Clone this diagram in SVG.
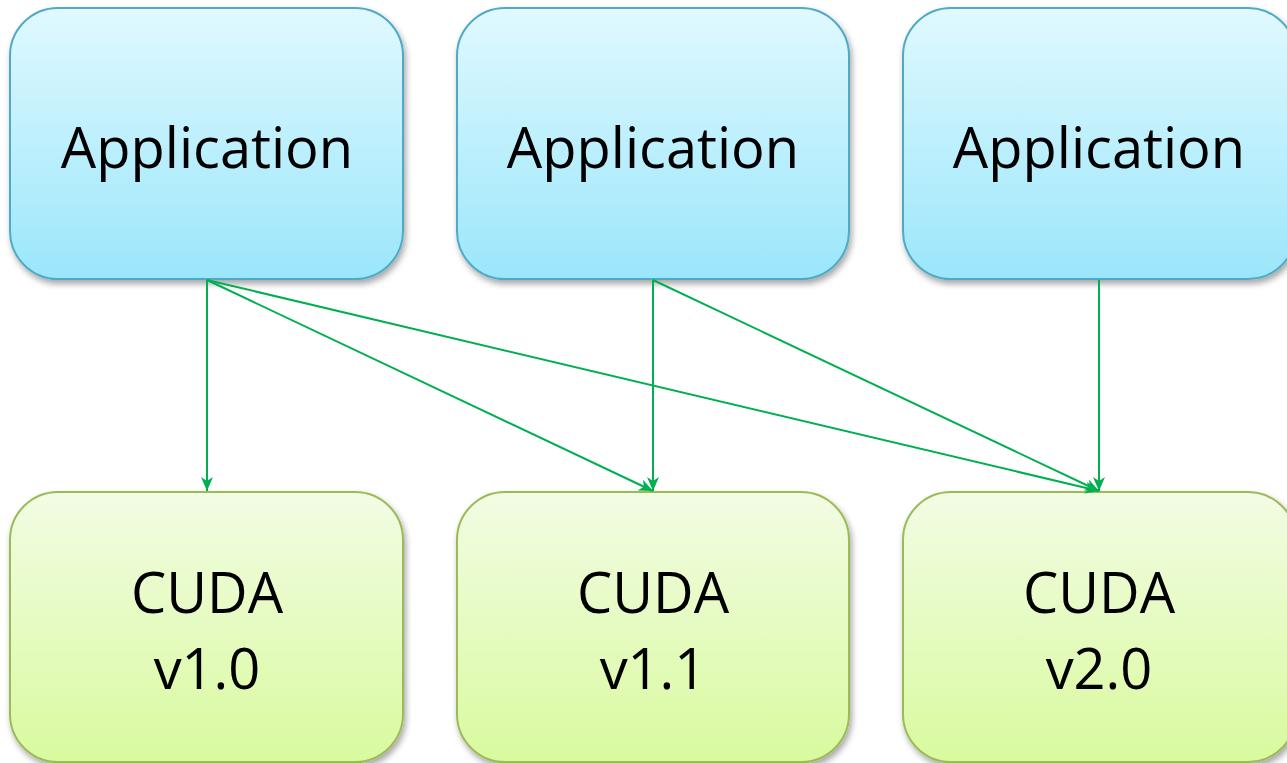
<svg xmlns="http://www.w3.org/2000/svg" width="1287" height="763" viewBox="0 0 1287 763">
<style>
.app rect{fill:url(#gBlue);stroke:#4FAAC6;stroke-width:2}
.cuda rect{fill:url(#gGreen);stroke:#9BBB59;stroke-width:2}
text{font-family:"Open Sans","Noto Sans",sans-serif;font-size:56px;fill:#000;text-anchor:middle}
.conn line{stroke:#00B050;stroke-width:2;fill:none;marker-end:url(#arr)}
</style>
<defs>
<linearGradient id="gBlue" x1="0" y1="0" x2="0" y2="1">
<stop offset="0" stop-color="#E0F9FE"/><stop offset="1" stop-color="#9BE6FB"/>
</linearGradient>
<linearGradient id="gGreen" x1="0" y1="0" x2="0" y2="1">
<stop offset="0" stop-color="#F2FCE4"/><stop offset="1" stop-color="#D9FA9E"/>
</linearGradient>
<filter id="sh" x="-10%" y="-10%" width="125%" height="125%">
<feDropShadow dx="2" dy="4" stdDeviation="3" flood-color="#000" flood-opacity="0.35"/>
</filter>
<marker id="arr" viewBox="0 0 14 12" refX="14" refY="6" markerWidth="14" markerHeight="12" markerUnits="userSpaceOnUse" orient="auto">
<path d="M0,0 L14,6 L0,12 L4,6 z" fill="#00B050"/>
</marker>
</defs>
<g id="app1" class="app"><rect x="10" y="8" width="393" height="271" rx="48" filter="url(#sh)"/><text x="207" y="168">Application</text></g>
<g id="app2" class="app"><rect x="457" y="8" width="392" height="271" rx="48" filter="url(#sh)"/><text x="653" y="168">Application</text></g>
<g id="app3" class="app"><rect x="903" y="8" width="393" height="271" rx="48" filter="url(#sh)"/><text x="1099" y="168">Application</text></g>
<g id="cuda10" class="cuda"><rect x="10" y="492" width="393" height="270" rx="48" filter="url(#sh)"/><text x="207" y="613">CUDA</text><text x="207" y="689">v1.0</text></g>
<g id="cuda11" class="cuda"><rect x="457" y="492" width="392" height="270" rx="48" filter="url(#sh)"/><text x="653" y="613">CUDA</text><text x="653" y="689">v1.1</text></g>
<g id="cuda20" class="cuda"><rect x="903" y="492" width="393" height="270" rx="48" filter="url(#sh)"/><text x="1099" y="613">CUDA</text><text x="1099" y="689">v2.0</text></g>
<g id="connectors" class="conn">
<line x1="207" y1="280" x2="207" y2="491"/>
<line x1="207" y1="280" x2="653" y2="491"/>
<line x1="207" y1="280" x2="1099" y2="491"/>
<line x1="653" y1="280" x2="653" y2="491"/>
<line x1="653" y1="280" x2="1099" y2="491"/>
<line x1="1099" y1="280" x2="1099" y2="491"/>
</g>
</svg>
